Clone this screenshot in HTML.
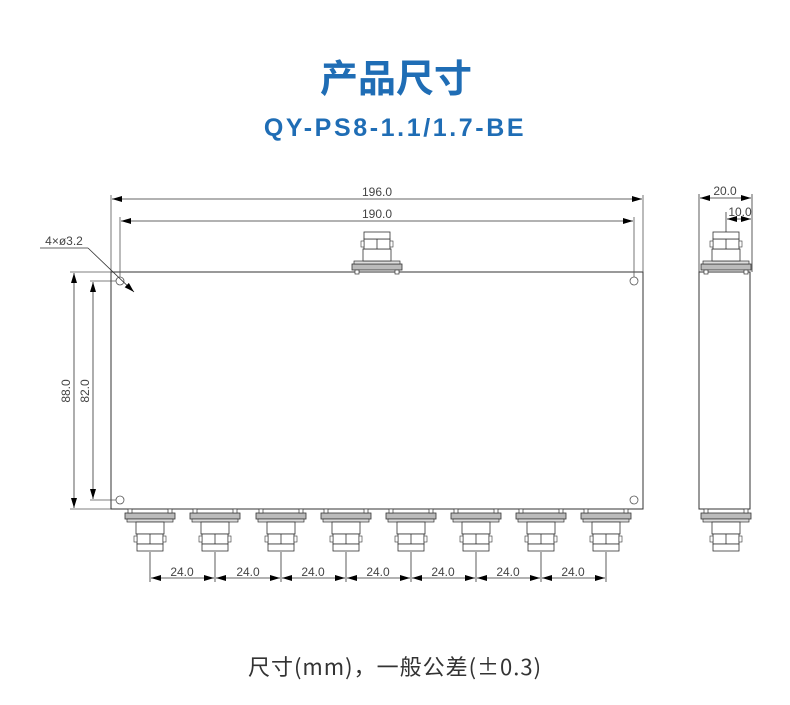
<!DOCTYPE html>
<html><head><meta charset="utf-8"><style>
body{margin:0;background:#fff;width:790px;height:705px;overflow:hidden}
svg{display:block}
</style></head><body>
<svg width="790" height="705" viewBox="0 0 790 705" xmlns="http://www.w3.org/2000/svg">
<defs>
<marker id="a" viewBox="0 0 10 6" refX="10" refY="3" markerWidth="10" markerHeight="6" orient="auto-start-reverse" markerUnits="userSpaceOnUse"><path d="M0,0L10,3L0,6z" fill="#000"/></marker>
<g id="con">
<rect x="-25" y="0" width="50" height="6" fill="#bbb" stroke="#333" stroke-width="0.8"/>
<rect x="-22" y="-4" width="4" height="4" fill="#fff" stroke="#333" stroke-width="0.7"/>
<rect x="18" y="-4" width="4" height="4" fill="#fff" stroke="#333" stroke-width="0.7"/>
<rect x="-23" y="6" width="46" height="3" fill="#ddd" stroke="#333" stroke-width="0.7"/>
<rect x="-14" y="9" width="28" height="12" fill="#fff" stroke="#333" stroke-width="0.8"/>
<rect x="-13" y="21" width="26" height="10" fill="#fff" stroke="#333" stroke-width="0.8"/>
<line x1="0" y1="21" x2="0" y2="31" stroke="#333" stroke-width="0.8"/>
<rect x="-16" y="23" width="3" height="6" fill="#fff" stroke="#333" stroke-width="0.6"/>
<rect x="13" y="23" width="3" height="6" fill="#fff" stroke="#333" stroke-width="0.6"/>
<rect x="-13" y="31" width="26" height="7" fill="#fff" stroke="#333" stroke-width="0.8"/>
</g>
</defs>
<text x="396" y="92" text-anchor="middle" font-family="Noto Sans CJK SC,sans-serif" font-size="38" font-weight="bold" fill="#1f6db5">产品尺寸</text>
<text x="395" y="136" text-anchor="middle" font-family="Liberation Sans,sans-serif" font-size="25" font-weight="bold" fill="#1f6db5" letter-spacing="2.6">QY-PS8-1.1/1.7-BE</text>

<g fill="none" stroke="#555" stroke-width="0.8">
<rect x="111" y="272" width="532" height="237" stroke="#333" stroke-width="1"/>
<circle cx="120" cy="281" r="4"/><circle cx="634" cy="281" r="4"/>
<circle cx="120" cy="500" r="4"/><circle cx="634" cy="500" r="4"/>
<line x1="111" y1="195" x2="111" y2="272"/><line x1="643" y1="195" x2="643" y2="272"/>
<line x1="120" y1="217" x2="120" y2="277"/><line x1="634" y1="217" x2="634" y2="277"/>
<line x1="70" y1="272" x2="111" y2="272"/><line x1="70" y1="509" x2="111" y2="509"/>
<line x1="90" y1="281" x2="116" y2="281"/><line x1="90" y1="500" x2="116" y2="500"/>
</g>
<g stroke="#333" stroke-width="0.8">
<line x1="112" y1="199" x2="642" y2="199" marker-start="url(#a)" marker-end="url(#a)"/>
<line x1="121" y1="221" x2="633" y2="221" marker-start="url(#a)" marker-end="url(#a)"/>
<line x1="74" y1="273" x2="74" y2="508" marker-start="url(#a)" marker-end="url(#a)"/>
<line x1="93" y1="282" x2="93" y2="499" marker-start="url(#a)" marker-end="url(#a)"/>
<line x1="40" y1="248" x2="88" y2="248"/>
<line x1="88" y1="248" x2="134" y2="292" marker-end="url(#a)"/>
</g>
<g font-family="Liberation Sans,sans-serif" font-size="12" fill="#444">
<text x="377" y="196" text-anchor="middle">196.0</text>
<text x="377" y="218" text-anchor="middle">190.0</text>
<text x="64" y="245" text-anchor="middle">4×ø3.2</text>
<text transform="translate(70,391) rotate(-90)" text-anchor="middle">88.0</text>
<text transform="translate(89,391) rotate(-90)" text-anchor="middle">82.0</text>
</g>
<g transform="translate(377,270) scale(1,-1)"><use href="#con"/></g>
<g transform="translate(150,513)"><use href="#con"/></g>
<g transform="translate(215,513)"><use href="#con"/></g>
<g transform="translate(281,513)"><use href="#con"/></g>
<g transform="translate(346,513)"><use href="#con"/></g>
<g transform="translate(411,513)"><use href="#con"/></g>
<g transform="translate(476,513)"><use href="#con"/></g>
<g transform="translate(541,513)"><use href="#con"/></g>
<g transform="translate(606,513)"><use href="#con"/></g>
<g stroke="#333" stroke-width="0.8">
<line x1="150" y1="552" x2="150" y2="582"/><line x1="215" y1="552" x2="215" y2="582"/>
<line x1="281" y1="552" x2="281" y2="582"/><line x1="346" y1="552" x2="346" y2="582"/>
<line x1="411" y1="552" x2="411" y2="582"/><line x1="476" y1="552" x2="476" y2="582"/>
<line x1="541" y1="552" x2="541" y2="582"/><line x1="606" y1="552" x2="606" y2="582"/>
<line x1="151" y1="578" x2="214" y2="578" marker-start="url(#a)" marker-end="url(#a)"/>
<line x1="216" y1="578" x2="280" y2="578" marker-start="url(#a)" marker-end="url(#a)"/>
<line x1="282" y1="578" x2="345" y2="578" marker-start="url(#a)" marker-end="url(#a)"/>
<line x1="347" y1="578" x2="410" y2="578" marker-start="url(#a)" marker-end="url(#a)"/>
<line x1="412" y1="578" x2="475" y2="578" marker-start="url(#a)" marker-end="url(#a)"/>
<line x1="477" y1="578" x2="540" y2="578" marker-start="url(#a)" marker-end="url(#a)"/>
<line x1="542" y1="578" x2="605" y2="578" marker-start="url(#a)" marker-end="url(#a)"/>
</g>
<g font-family="Liberation Sans,sans-serif" font-size="12" fill="#444" text-anchor="middle">
<text x="182" y="576">24.0</text><text x="248" y="576">24.0</text><text x="313" y="576">24.0</text>
<text x="378" y="576">24.0</text><text x="443" y="576">24.0</text><text x="508" y="576">24.0</text><text x="573" y="576">24.0</text>
</g>
<rect x="699" y="272" width="51" height="237" fill="none" stroke="#333" stroke-width="1"/>
<g transform="translate(726,270) scale(1,-1)"><use href="#con"/></g>
<g transform="translate(726,513)"><use href="#con"/></g>
<g stroke="#333" stroke-width="0.8">
<line x1="699" y1="194" x2="699" y2="272"/><line x1="752" y1="194" x2="752" y2="272"/>
<line x1="726" y1="212" x2="726" y2="232"/>
<line x1="700" y1="198" x2="751" y2="198" marker-start="url(#a)" marker-end="url(#a)"/>
<line x1="727" y1="219" x2="751" y2="219" marker-start="url(#a)" marker-end="url(#a)"/>
</g>
<g font-family="Liberation Sans,sans-serif" font-size="12" fill="#444" text-anchor="middle">
<text x="725" y="195">20.0</text><text x="740" y="216">10.0</text>
</g>
<text x="395" y="675" text-anchor="middle" font-family="Noto Sans CJK SC,sans-serif" font-size="22" fill="#333" letter-spacing="1">尺寸(mm)，一般公差(±0.3)</text>
</svg>
</body></html>
